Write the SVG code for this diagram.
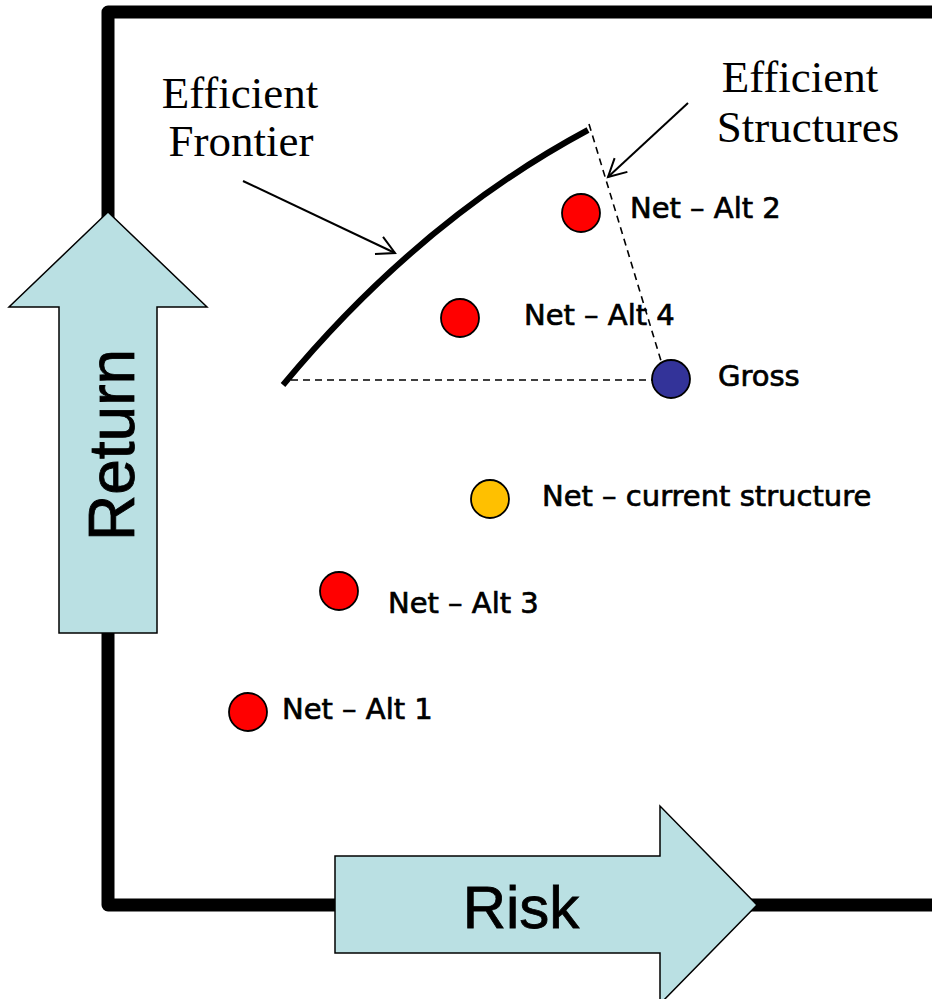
<svg xmlns="http://www.w3.org/2000/svg" width="932" height="999" viewBox="0 0 932 999">
  <style>
    .frame { fill: none; stroke: #000; stroke-width: 13; stroke-linejoin: round; }
    .axis-arrow { fill: #BAE0E3; stroke: #000; stroke-width: 1.5; }
    .axis-label { font-family: "Liberation Sans", Arial, sans-serif; fill: #000; stroke: #000; stroke-width: 0.8; }
    .note { font-family: "Liberation Serif", "Times New Roman", serif; font-size: 45px; fill: #000; text-anchor: middle; }
    .label { font-family: "DejaVu Sans", Verdana, sans-serif; font-size: 29px; fill: #000; stroke: #000; stroke-width: 0.7; }
    .dot { stroke: #000; stroke-width: 1.8; }
    .red { fill: #FF0000; }
    .amber { fill: #FFC000; }
    .navy { fill: #333399; }
    .dash { fill: none; stroke: #000; stroke-width: 1.6; stroke-dasharray: 7 5; }
    .pointer { fill: none; stroke: #000; stroke-width: 2; }
  </style>
  <defs>
    <marker id="open-head" markerUnits="userSpaceOnUse" markerWidth="30" markerHeight="30" viewBox="-25 -15 30 30" refX="0" refY="0" orient="auto">
      <path d="M -17.7,-9.4 L 0,0 L -17.7,9.4" fill="none" stroke="#000" stroke-width="2"/>
    </marker>
  </defs>

  <rect width="932" height="999" fill="#fff"/>

  <!-- chart frame -->
  <path class="frame" d="M 940,12 L 108,12 L 108,905 L 940,905"/>

  <!-- Return axis arrow -->
  <g id="return-axis">
    <polygon class="axis-arrow" points="108,212 207,307 157,307 157,633 59,633 59,307 9,307"/>
    <text class="axis-label" font-size="64" text-anchor="middle" transform="translate(134,445) rotate(-90)">Return</text>
  </g>

  <!-- Risk axis arrow -->
  <g id="risk-axis">
    <polygon class="axis-arrow" points="335,856 660,856 660,806 757,905 660,1004 660,953 335,953"/>
    <text class="axis-label" font-size="60" text-anchor="middle" x="521" y="928">Risk</text>
  </g>

  <!-- efficient frontier curve and structure boundary -->
  <g id="connectors">
    <path d="M 283,385 Q 420,220 588,130" fill="none" stroke="#000" stroke-width="6"/>
    <line class="dash" x1="291" y1="380" x2="654" y2="380"/>
    <line class="dash" x1="589" y1="124" x2="672" y2="397"/>
    <line class="pointer" x1="243" y1="181" x2="395" y2="253" marker-end="url(#open-head)"/>
    <line class="pointer" x1="688" y1="103" x2="608" y2="177" marker-end="url(#open-head)"/>
  </g>

  <g id="note-frontier">
    <text class="note" x="240" y="108">Efficient</text>
    <text class="note" x="241" y="156">Frontier</text>
  </g>
  <g id="note-structures">
    <text class="note" x="800" y="92">Efficient</text>
    <text class="note" x="808" y="142">Structures</text>
  </g>

  <g id="net-alt-2">
    <circle class="dot red" cx="581" cy="213" r="19"/>
    <text class="label" x="630" y="218">Net – Alt 2</text>
  </g>
  <g id="net-alt-4">
    <circle class="dot red" cx="460" cy="318" r="19"/>
    <text class="label" x="524" y="325">Net – Alt 4</text>
  </g>
  <g id="gross">
    <circle class="dot navy" cx="671" cy="379" r="19"/>
    <text class="label" x="718" y="386">Gross</text>
  </g>
  <g id="net-current">
    <circle class="dot amber" cx="490" cy="499" r="19"/>
    <text class="label" x="542" y="506">Net – current structure</text>
  </g>
  <g id="net-alt-3">
    <circle class="dot red" cx="339" cy="591" r="19"/>
    <text class="label" x="388" y="613">Net – Alt 3</text>
  </g>
  <g id="net-alt-1">
    <circle class="dot red" cx="248" cy="712" r="19"/>
    <text class="label" x="282" y="719">Net – Alt 1</text>
  </g>
</svg>
